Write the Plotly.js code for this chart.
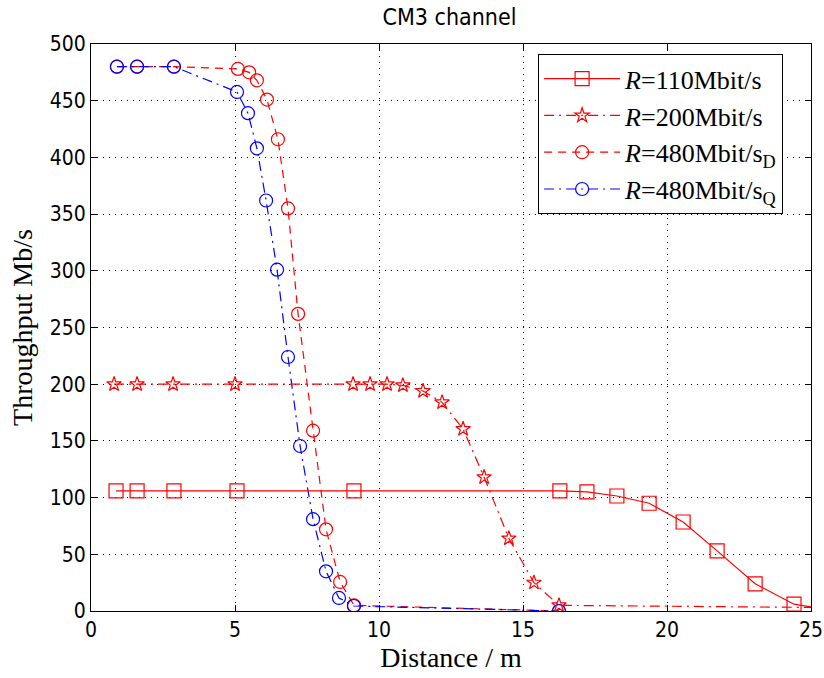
<!DOCTYPE html>
<html>
<head>
<meta charset="utf-8">
<script src="https://cdn.plot.ly/plotly-3.0.1.min.js"></script>
<style>html,body{margin:0;padding:0;background:#fff;}#chart{width:824px;height:678px;}</style>
</head>
<body>
<div id="chart"></div>
<script>
// Data
const x110 = [0.87, 1.6, 2.88, 5.07, 9.13, 16.28, 17.22, 18.26, 19.38, 20.56, 21.74, 23.06, 24.41, 25.7];
const y110 = [106, 106, 106, 106, 106, 106, 105, 101.4, 95, 78.5, 53, 24, 6, 1];

const x200 = [0.8, 1.6, 2.85, 5.0, 9.10, 9.69, 10.28, 10.83, 11.53, 12.19, 12.92, 13.65, 14.51, 15.38, 16.25, 25.7];
const y200 = [200, 200, 200, 200, 200, 200, 200, 199, 194, 184, 160.5, 118, 64, 25, 5, 3];

const x480D = [0.9, 1.6, 2.88, 5.10, 5.49, 5.76, 6.11, 6.49, 6.84, 7.19, 7.71, 8.16, 8.65, 9.13, 16.25];
const y480D = [480, 480, 480, 478, 475, 468, 451, 416, 355, 262, 159, 72, 25.6, 5, 0];

const x480Q = [0.9, 1.6, 2.88, 5.07, 5.45, 5.76, 6.08, 6.46, 6.84, 7.26, 7.71, 8.16, 8.61, 9.13, 16.25];
const y480Q = [480, 480, 480, 457.7, 439, 408, 362, 301, 224, 145.5, 81, 35, 11.5, 4.4, 0];

const names = ["<i>R</i>=110Mbit/s", "<i>R</i>=200Mbit/s", "<i>R</i>=480Mbit/s<sub>D</sub>", "<i>R</i>=480Mbit/s<sub>Q</sub>"];
const xTicks = [0, 5, 10, 15, 20, 25];
const yTicks = [0, 50, 100, 150, 200, 250, 300, 350, 400, 450, 500];

const RED = "#ff0000", BLUE = "#0000ff";

const traces = [
  {x: x480D, y: y480D, name: names[2], mode: "lines+markers", legendrank: 3,
   line: {color: RED, width: 1.2, dash: "8px,6px"},
   marker: {symbol: "circle-open", size: 13, color: RED, line: {width: 1.2}}},
  {x: x480Q, y: y480Q, name: names[3], mode: "lines+markers", legendrank: 4,
   line: {color: BLUE, width: 1.2, dash: "10px,5px,2px,5px"},
   marker: {symbol: "circle-open", size: 13, color: BLUE, line: {width: 1.2}}},
  {x: x110, y: y110, name: names[0], mode: "lines+markers", legendrank: 1,
   line: {color: RED, width: 1.2},
   marker: {symbol: "square-open", size: 14, color: RED, line: {width: 1.2}}},
  {x: x200, y: y200, name: names[1], mode: "lines+markers", legendrank: 2,
   line: {color: RED, width: 1.2, dash: "10px,5px,2px,5px"},
   marker: {symbol: "star-open", size: 11, color: RED, line: {width: 1.2}}}
];

const sansC = "DejaVu Sans Condensed, Liberation Sans Narrow, Arial Narrow, sans-serif";
const tickFont = {family: sansC, size: 21, color: "#000"};
const serif = "Liberation Serif, Times New Roman, serif";

const axisCommon = {
  showline: true, linecolor: "#000", linewidth: 1, mirror: "ticks",
  ticks: "inside", ticklen: 6, tickcolor: "#000", tickwidth: 1,
  showgrid: true, gridcolor: "#000", gridwidth: 1, griddash: "1px,5px",
  zeroline: false, tickfont: tickFont, fixedrange: true
};

const layout = {
  width: 824, height: 678,
  margin: {l: 91, r: 13, t: 44, b: 67},
  paper_bgcolor: "#fff", plot_bgcolor: "#fff",
  title: {text: "CM3 channel", font: {family: sansC, size: 23, color: "#000"},
          x: 0.5455, xanchor: "center", y: 0.975, yanchor: "middle"},
  xaxis: Object.assign({}, axisCommon, {range: [0, 25], tickvals: xTicks, ticktext: xTicks.map(String),
          title: {text: "Distance / m", font: {family: serif, size: 28, color: "#000"}, standoff: 6}}),
  yaxis: Object.assign({}, axisCommon, {range: [0, 500], tickvals: yTicks, ticktext: yTicks.map(String),
          title: {text: "Throughput Mb/s", font: {family: serif, size: 28, color: "#000"}, standoff: 8}}),
  showlegend: true,
  legend: {x: 0.621, y: 0.982, xanchor: "left", yanchor: "top",
           bgcolor: "#fff", bordercolor: "#000", borderwidth: 1,
           font: {family: serif, size: 26, color: "#000"}, itemwidth: 76,
           traceorder: "normal", tracegroupgap: 0}
};

Plotly.newPlot("chart", traces, layout, {displayModeBar: false, staticPlot: true});
</script>
</body>
</html>
